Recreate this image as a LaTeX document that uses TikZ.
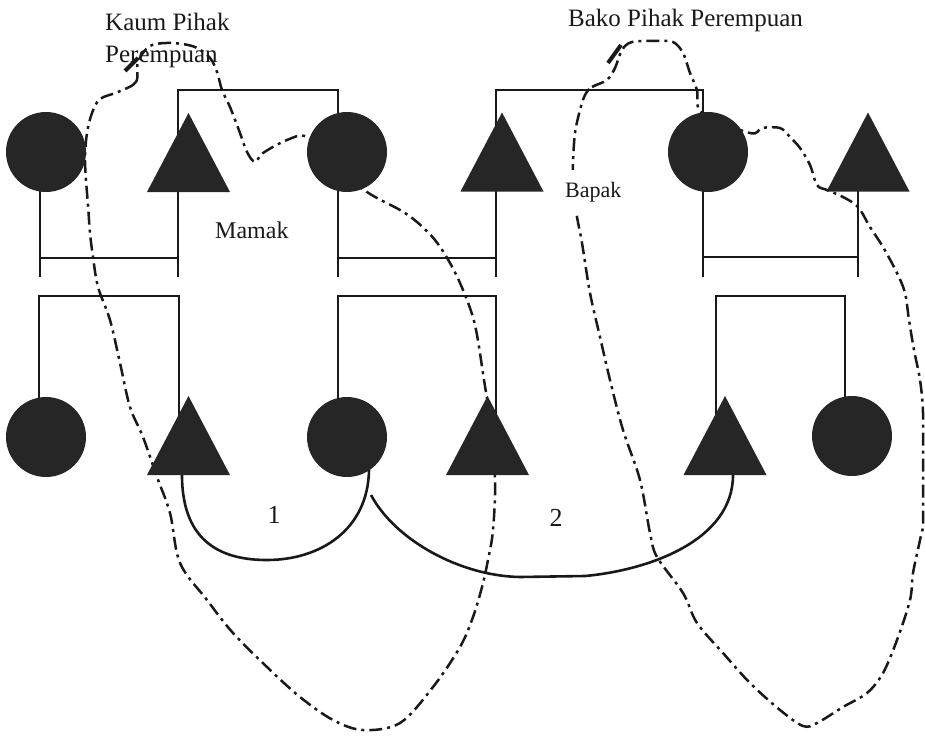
\documentclass[tikz,border=0pt]{standalone}
\usepackage{fontspec}
\setmainfont{Liberation Serif}
\begin{document}
\begin{tikzpicture}[x=1pt,y=-1pt,
  kin/.style={line width=2.3pt, black!90},
  bond/.style={line width=2.6pt, black!90},
  group/.style={line width=2.5pt, black!90, dash pattern=on 13pt off 5pt on 3pt off 5pt},
  tick/.style={line width=4pt, black!90},
  fem/.style={circle, fill=black!85, minimum size=80pt, inner sep=0pt},
  lbl/.style={font=\fontsize{25}{30}\selectfont, inner sep=0pt, text=black!90},
  male/.pic={\fill[black!85] (-41.5,39.5) -- (0,-39.5) -- (41.5,39.5) -- cycle;
             \coordinate (-c) at (0,0);}]
\useasboundingbox (0,0) rectangle (925,736);

% dash-dot outlines of the two kin groups
\draw[group] plot[smooth cycle, tension=0.55] coordinates {
  (138,62) (136,82) (118,92) (100,99) (92,113) (87,133) (85,157) (86,180)
  (88,205) (90,233) (93,257) (98,287) (110,320) (120,363) (130,407) (143,437)
  (157,477) (170,513) (180,563) (207,600) (233,633) (267,667) (300,697)
  (333,720) (363,730) (400,723) (433,687) (460,647) (473,617) (482,587)
  (488,560) (493,530) (495,480) (490,420) (484,380) (475,325) (463,290)
  (450,263) (435,240) (417,222) (400,210) (367,192) (335,165) (307,137)
  (287,140) (263,153) (255,162) (247,152) (240,133) (230,107) (222,90)
  (217,72) (210,58) (195,47) (172,43) (150,46)};
\draw[tick] (125,71) -- (138,58);

\draw[group] plot[smooth cycle, tension=0.55] coordinates {
  (585,95) (592,87) (607,80) (615,68) (622,50) (632,42) (655,41) (673,42)
  (683,53) (690,73) (697,90) (702,113) (750,133) (762,128) (780,128)
  (790,137) (800,148) (810,165) (817,185) (827,190) (843,197) (858,207)
  (870,227) (883,247) (897,273) (905,293) (909,320) (914,350) (920,380)
  (923,413) (923,470) (923,523) (920,540) (913,573) (910,600) (897,640)
  (883,673) (867,693) (843,707) (817,723) (803,726) (780,710) (750,683)
  (723,653) (697,623) (683,593) (657,557) (650,533) (640,480) (623,430)
  (610,380) (600,337) (590,293) (582,243) (577,217) (573,190) (573,163)
  (575,133) (580,110)};
\draw[tick] (608,63) -- (621,45);

% upper generation: sibling brackets, marriage bars and stems
\draw[kin] (178,277) -- (178,90) -- (338,90) -- (338,277);
\draw[kin] (40,190) -- (40,277);
\draw[kin] (40,258) -- (178,258);
\draw[kin] (338,258) -- (496,258);
\draw[kin] (496,277) -- (496,90) -- (703,90) -- (703,277);
\draw[kin] (703,257) -- (858,257);
\draw[kin] (858,190) -- (858,277);

% lower generation: sibling brackets
\draw[kin] (39,400) -- (39,296) -- (179,296) -- (179,440);
\draw[kin] (338,400) -- (338,296) -- (496,296) -- (496,440);
\draw[kin] (716,440) -- (716,296) -- (845,296) -- (845,400);

% persons, upper row
\node[fem] (f1) at (46,152) {};
\pic (m1) at (188.5,152.5) {male};
\node[fem] (f2) at (347,152) {};
\pic (m2) at (502,152) {male};
\node[fem] (f3) at (708,152) {};
\pic (m3) at (868,152) {male};

% persons, lower row
\node[fem] (f4) at (46,437) {};
\pic (m4) at (188.5,435.5) {male};
\node[fem] (f5) at (347,437) {};
\pic (m5) at (487.5,435.5) {male};
\pic (m6) at (725,435.5) {male};
\node[fem] (f6) at (852,436) {};

% marriage links 1 and 2
\draw[bond] (182,475) .. controls (182,545) and (225,560) .. (267,560)
            .. controls (320,560) and (368,530) .. (369,470);
\draw[bond] (371,495) .. controls (395,540) and (460,576) .. (520,577)
            -- (585,576) .. controls (650,570) and (733,540) .. (733,475);

% labels
\node[lbl, anchor=base west] (kaum1) at (105,30) {Kaum Pihak};
\node[lbl, anchor=base west] (kaum2) at (105,62) {Perempuan};
\node[lbl, anchor=base west] (bako) at (568,27) {Bako Pihak Perempuan};
\node[lbl, anchor=base west, font=\fontsize{24}{28}\selectfont] (mamak) at (215,238) {Mamak};
\node[lbl, anchor=base west, font=\fontsize{22}{26}\selectfont, fill=white,
      inner xsep=1pt, inner ysep=12pt] (bapak) at (564,197) {Bapak};
\node[lbl, font=\fontsize{26}{30}\selectfont] (n1) at (274,515) {1};
\node[lbl, font=\fontsize{26}{30}\selectfont] (n2) at (556,518) {2};
\end{tikzpicture}
\end{document}
